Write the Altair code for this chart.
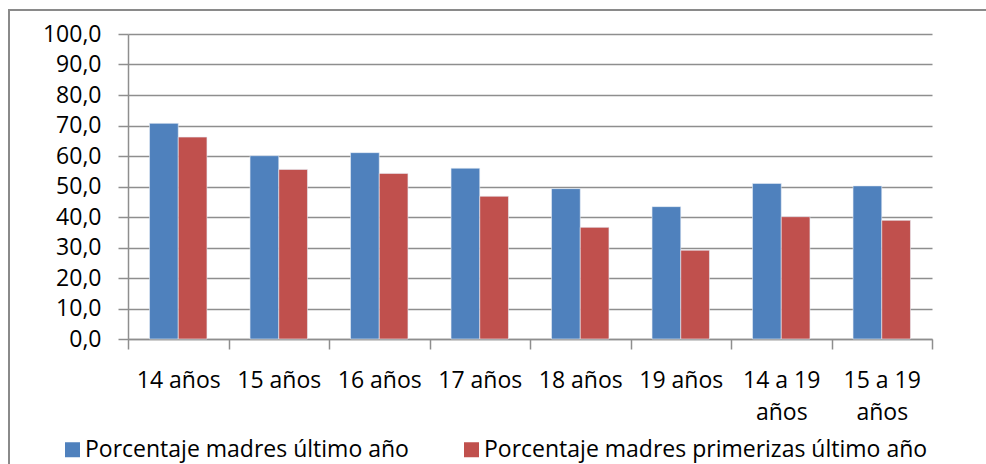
import altair as alt
import pandas as pd

# Age groups on the x axis
categories = ["14 años", "15 años", "16 años", "17 años", "18 años",
              "19 años", "14 a 19 años", "15 a 19 años"]

# Series names (legend order)
series_names = ["Porcentaje madres último año",
                "Porcentaje madres primerizas último año"]

# Percentages per age group
madres = [70.7, 60.1, 61.1, 56.0, 49.3, 43.4, 51.0, 50.2]
primerizas = [66.2, 55.6, 54.3, 46.8, 36.6, 29.1, 40.1, 38.9]

colors = ["#4F81BD", "#C0504D"]

rows = []
for i, cat in enumerate(categories):
    rows.append({"grupo": cat, "serie": series_names[0], "valor": madres[i]})
    rows.append({"grupo": cat, "serie": series_names[1], "valor": primerizas[i]})
df = pd.DataFrame(rows)

FONT = "Open Sans"
GRID = "#8E8E8E"

bars = alt.Chart(df).mark_bar(stroke="#E8EEF6", strokeWidth=0.6).encode(
    x=alt.X(
        "grupo:N",
        sort=categories,
        title=None,
        scale=alt.Scale(paddingInner=0, paddingOuter=0),
        axis=alt.Axis(
            labelAngle=0,
            labelFont=FONT,
            labelFontSize=23,
            labelColor="#000000",
            labelPadding=20,
            labelLineHeight=32,
            labelBaseline="top",
            labelExpr="test(/ a 19/, datum.label) ? [replace(datum.label, ' años', ''), 'años'] : datum.label",
            tickBand="extent",
            tickSize=10,
            tickColor=GRID,
            domainColor=GRID,
            domainWidth=1.5,
            tickWidth=1.5,
            grid=False,
        ),
    ),
    xOffset=alt.XOffset("serie:N", sort=series_names,
                        scale=alt.Scale(paddingInner=0, paddingOuter=0.75)),
    y=alt.Y(
        "valor:Q",
        title=None,
        scale=alt.Scale(domain=[0, 100], nice=False),
        axis=alt.Axis(
            values=[0, 10, 20, 30, 40, 50, 60, 70, 80, 90, 100],
            labelExpr="replace(format(datum.value, '.1f'), '.', ',')",
            labelFont=FONT,
            labelFontSize=23,
            labelColor="#000000",
            labelPadding=17,
            tickSize=10,
            tickColor=GRID,
            tickWidth=1.5,
            domainColor=GRID,
            domainWidth=1.5,
            grid=True,
            gridColor=GRID,
            gridWidth=1.5,
        ),
    ),
    color=alt.Color(
        "serie:N",
        sort=series_names,
        scale=alt.Scale(domain=series_names, range=colors),
        legend=alt.Legend(
            title=None,
            orient="none",
            direction="horizontal",
            legendX=-67,
            legendY=404,
            symbolType="square",
            symbolSize=225,
            symbolStrokeWidth=0,
            symbolOpacity=1,
            labelFont=FONT,
            labelFontSize=23,
            labelColor="#000000",
            labelOffset=1,
            labelLimit=0,
            columnPadding=51,
        ),
    ),
)

# Outer frame: left and top edges of the chart border
frame_data = alt.Data(values=[{}])
frame_left = alt.Chart(frame_data).mark_rule(color="#8A8A8A", strokeWidth=2).encode(
    x=alt.value(-119), y=alt.value(-24), y2=alt.value(460)
)
frame_top = alt.Chart(frame_data).mark_rule(color="#8A8A8A", strokeWidth=2).encode(
    x=alt.value(-120), x2=alt.value(870), y=alt.value(-24)
)

chart = alt.layer(bars, frame_left, frame_top).properties(
    width=804,
    height=305,
    padding={"left": 128, "top": 34, "right": 54, "bottom": 125},
    autosize=alt.AutoSizeParams(type="none"),
    background="#FFFFFF",
).configure_view(stroke=None)

chart.save("out.html", embed_options={"renderer": "svg", "actions": False})
